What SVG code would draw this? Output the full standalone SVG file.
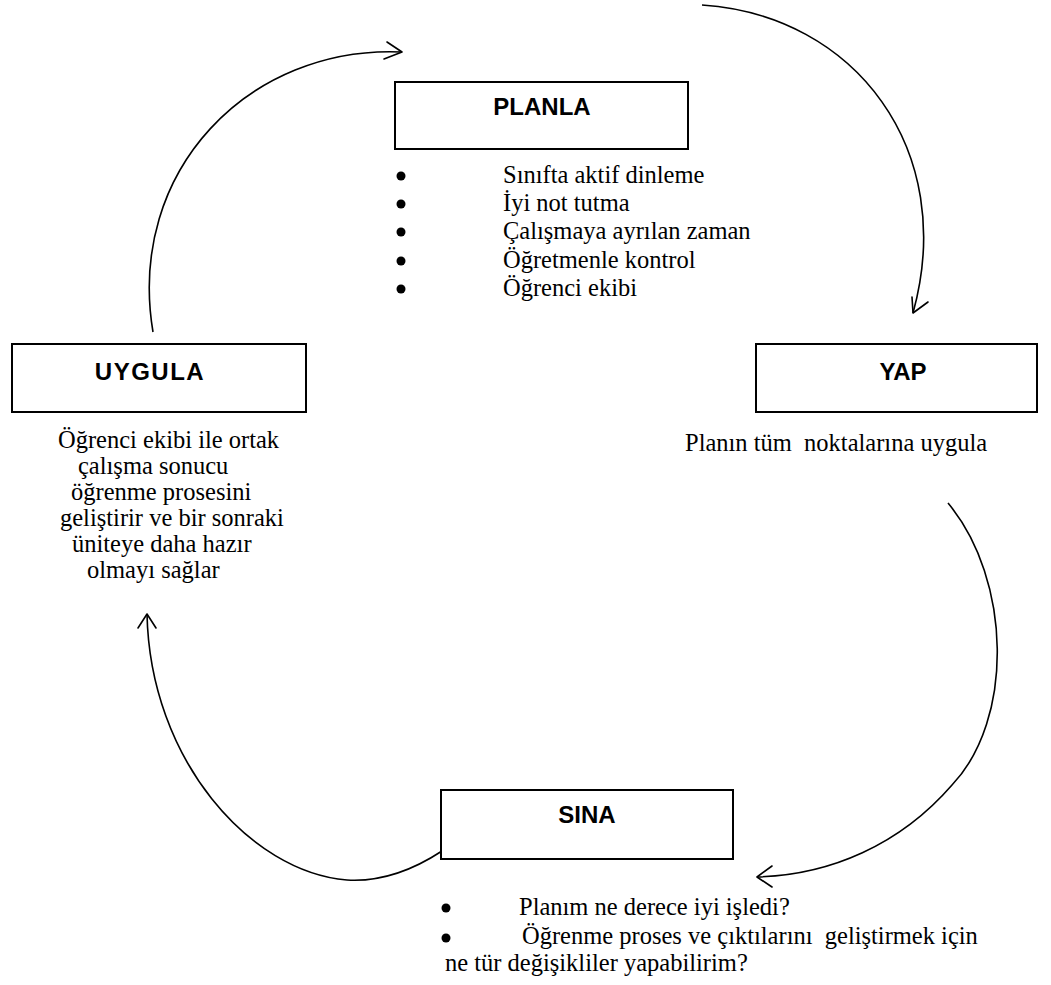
<svg xmlns="http://www.w3.org/2000/svg" width="1051" height="985" viewBox="0 0 1051 985">
  <style>
    .box { fill: #fff; stroke: #000; stroke-width: 2; }
    .title { font-family: "Liberation Sans", Arial, sans-serif; font-weight: bold; font-size: 24px; fill: #000; text-anchor: middle; }
    .body { font-family: "Liberation Serif", "Times New Roman", serif; font-size: 24.5px; fill: #000; white-space: pre; }
    .flow { fill: none; stroke: #000; stroke-width: 1.6; }
    .head { fill: none; stroke: #000; stroke-width: 1.6; stroke-linecap: round; stroke-linejoin: round; }
    .dot { fill: #000; }
  </style>

  <rect width="1051" height="985" fill="#fff"/>

  <!-- cycle arrows -->
  <g id="connectors">
    <!-- UYGULA to PLANLA -->
    <path class="flow" d="M153,332 C126,170 250,45 402,52"/>
    <polyline class="head" points="387,42 402,52 384,59"/>
    <!-- PLANLA to YAP -->
    <path class="flow" d="M702,5 C855,15 958,150 913,313"/>
    <polyline class="head" points="912,297 913,313 928,302"/>
    <!-- YAP to SINA -->
    <path class="flow" d="M948,503 C1012,580 1014,720 952,785 C900,845 830,875 757,877"/>
    <polyline class="head" points="772,866 757,877 772,887"/>
    <!-- SINA to UYGULA -->
    <path class="flow" d="M442,851 C410,872 380,882 347,880 C250,872 150,760 147,614"/>
    <polyline class="head" points="138,628 147,614 156,628"/>
  </g>

  <g id="planla">
    <rect class="box" x="395" y="82" width="293" height="67"/>
    <text class="title" x="542" y="115">PLANLA</text>
    <circle class="dot" cx="401" cy="176" r="4.5"/>
    <circle class="dot" cx="401" cy="204" r="4.5"/>
    <circle class="dot" cx="401" cy="232" r="4.5"/>
    <circle class="dot" cx="401" cy="261" r="4.5"/>
    <circle class="dot" cx="401" cy="289" r="4.5"/>
    <text class="body" x="503" y="183">Sınıfta aktif dinleme</text>
    <text class="body" x="503" y="211">İyi not tutma</text>
    <text class="body" x="503" y="239">Çalışmaya ayrılan zaman</text>
    <text class="body" x="503" y="268">Öğretmenle kontrol</text>
    <text class="body" x="503" y="296">Öğrenci ekibi</text>
  </g>

  <g id="yap">
    <rect class="box" x="756" y="344" width="281" height="68"/>
    <text class="title" x="903" y="380">YAP</text>
    <text class="body" x="685" y="451">Planın tüm  noktalarına uygula</text>
  </g>

  <g id="uygula">
    <rect class="box" x="12" y="344" width="294" height="68"/>
    <text class="title" x="150" y="380" letter-spacing="1.5">UYGULA</text>
    <text class="body" x="58" y="448">Öğrenci ekibi ile ortak</text>
    <text class="body" x="78" y="474">çalışma sonucu</text>
    <text class="body" x="71" y="500">öğrenme prosesini</text>
    <text class="body" x="60" y="526">geliştirir ve bir sonraki</text>
    <text class="body" x="72" y="552">üniteye daha hazır</text>
    <text class="body" x="87" y="578">olmayı sağlar</text>
  </g>

  <g id="sina">
    <rect class="box" x="441" y="790" width="292" height="69"/>
    <text class="title" x="587" y="823">SINA</text>
    <circle class="dot" cx="446" cy="908" r="4.5"/>
    <circle class="dot" cx="446" cy="938" r="4.5"/>
    <text class="body" x="519" y="915">Planım ne derece iyi işledi?</text>
    <text class="body" x="522" y="944">Öğrenme proses ve çıktılarını  geliştirmek için</text>
    <text class="body" x="445" y="971">ne tür değişikliler yapabilirim?</text>
  </g>
</svg>
